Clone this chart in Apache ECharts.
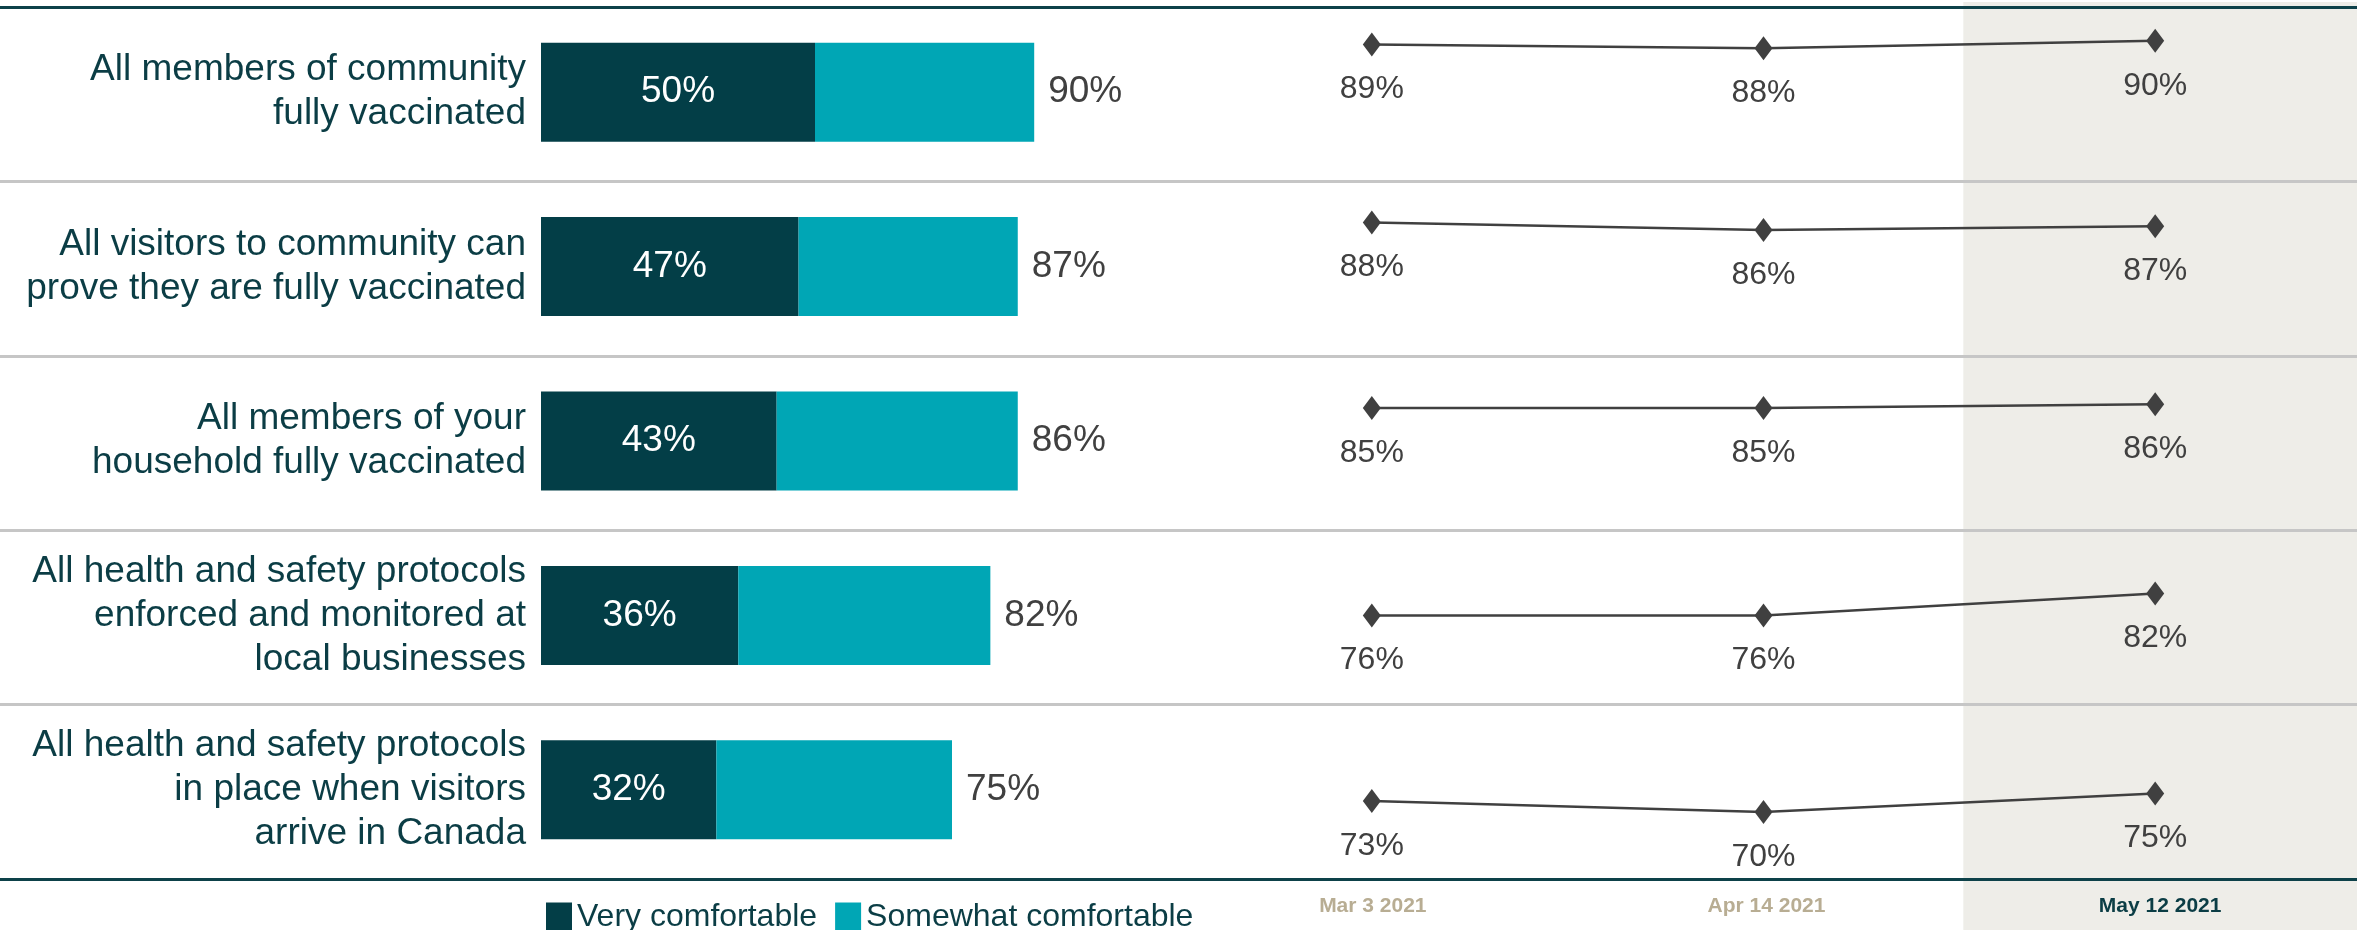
<!DOCTYPE html>
<html><head><meta charset="utf-8">
<script src="https://cdn.jsdelivr.net/npm/echarts@6/dist/echarts.min.js"></script>
<style>html,body{margin:0;padding:0;background:#fff}#c{width:2357px;height:930px}</style>
</head><body><div id="c"></div>
<script>
const categories = [
  'All members of community\nfully vaccinated',
  'All visitors to community can\nprove they are fully vaccinated',
  'All members of your\nhousehold fully vaccinated',
  'All health and safety protocols\nenforced and monitored at\nlocal businesses',
  'All health and safety protocols\nin place when visitors\narrive in Canada'
];
const veryComfortable = [50, 47, 43, 36, 32];
const somewhatComfortable = [40, 40, 44, 46, 43];
const totalComfortable = [90, 87, 86, 82, 75];
const waves = ['Mar 3 2021', 'Apr 14 2021', 'May 12 2021'];
const trend = [
  [89, 88, 90],
  [88, 86, 87],
  [85, 85, 86],
  [76, 76, 82],
  [73, 70, 75]
];

const FONT = '"Liberation Sans", Arial, sans-serif';
const DARK = '#033E47', LIGHT = '#00A6B5', TEXT = '#0B3D45', GREY = '#404040';
const W = 2357, H = 930;
const bandTop = 7, bandBottom = 879, bandH = (bandBottom - bandTop) / 5;
const lineLeft = 1176, lineWidth = 1175;

const grids = [], xAxes = [], yAxes = [], series = [];

// 0: background separators (full width)
grids.push({left: 0, width: W, top: bandTop, height: bandBottom - bandTop});
xAxes.push({gridIndex: 0, type: 'value', show: false});
yAxes.push({gridIndex: 0, type: 'category', data: categories, inverse: true, z: 3,
  axisLine: {show: false}, axisTick: {show: false}, axisLabel: {show: false},
  splitLine: {show: true, lineStyle: {width: 3, color: ['#0D4149', '#C6C6C6', '#C6C6C6', '#C6C6C6', '#C6C6C6']}}});

// 1: date axis + shaded column (full height)
grids.push({left: lineLeft, right: 0, top: 2, bottom: 0});
xAxes.push({gridIndex: 1, type: 'category', data: waves, position: 'bottom', z: 0,
  axisLine: {show: false}, axisTick: {show: false},
  splitArea: {show: true, areaStyle: {color: ['rgba(0,0,0,0)', 'rgba(0,0,0,0)', '#EEEDE8']}},
  axisLabel: {inside: true, margin: 13, fontFamily: FONT, fontSize: 21, fontWeight: 'bold',
    color: (v, i) => v === 'May 12 2021' ? TEXT : '#B8AD93'}});
yAxes.push({gridIndex: 1, type: 'value', show: false});

// 2: bar chart
grids.push({left: 541, width: 548, top: bandTop - 2, height: bandBottom - bandTop});
xAxes.push({gridIndex: 2, type: 'value', min: 0, max: 100, show: false});
yAxes.push({gridIndex: 2, type: 'category', data: categories, inverse: true,
  axisLine: {show: false}, axisTick: {show: false}, splitLine: {show: false},
  axisLabel: {margin: 15, fontFamily: FONT, fontSize: 37, lineHeight: 44, color: TEXT, align: 'right'}});
series.push({name: 'Very comfortable', type: 'bar', stack: 'c', xAxisIndex: 2, yAxisIndex: 2,
  data: veryComfortable, barWidth: 99, itemStyle: {color: DARK},
  label: {show: true, position: 'inside', formatter: '{c}%', color: '#fff', fontFamily: FONT, fontSize: 37}});
series.push({name: 'Somewhat comfortable', type: 'bar', stack: 'c', xAxisIndex: 2, yAxisIndex: 2,
  data: somewhatComfortable, barWidth: 99, itemStyle: {color: LIGHT},
  label: {show: true, position: 'right', distance: 14, formatter: p => totalComfortable[p.dataIndex] + '%',
    color: GREY, fontFamily: FONT, fontSize: 37}});

// 3..7: trend lines per row
trend.forEach((vals, i) => {
  const gi = grids.length;
  grids.push({left: lineLeft, width: lineWidth, top: bandTop + i * bandH - 3, height: 184});
  xAxes.push({gridIndex: gi, type: 'category', data: waves, show: false});
  yAxes.push({gridIndex: gi, type: 'value', min: 50, max: 100, show: false});
  series.push({type: 'line', xAxisIndex: gi, yAxisIndex: gi, data: vals,
    symbol: 'diamond', symbolSize: [18, 24], lineStyle: {color: GREY, width: 2.5},
    itemStyle: {color: GREY}, z: 5,
    label: {show: true, position: 'bottom', distance: 17, formatter: '{c}%', color: GREY, fontFamily: FONT, fontSize: 32}});
});

const chart = echarts.init(document.getElementById('c'));
chart.setOption({
  animation: false,
  grid: grids, xAxis: xAxes, yAxis: yAxes, series: series,
  legend: {data: ['Very comfortable', 'Somewhat comfortable'], left: 541, top: 896,
    itemWidth: 26, itemHeight: 29, itemGap: 18, icon: 'rect',
    textStyle: {fontFamily: FONT, fontSize: 32, color: TEXT}}
});
</script></body></html>
